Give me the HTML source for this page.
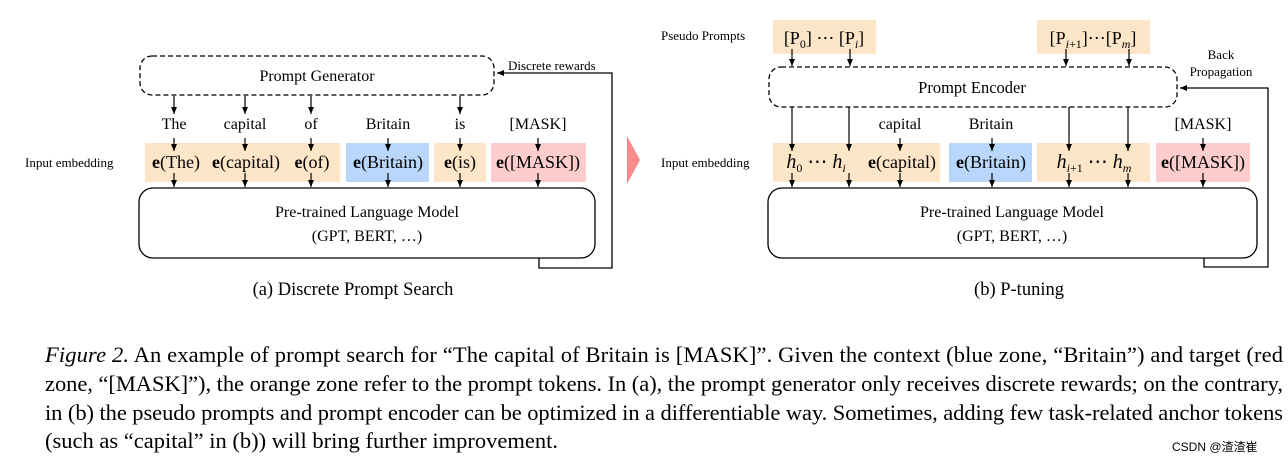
<!DOCTYPE html>
<html><head><meta charset="utf-8"><style>
html,body{margin:0;padding:0;background:#fff;}
svg{display:block;}
text{font-family:"Liberation Serif",serif;fill:#000;}
</style></head><body>
<svg width="1288" height="463" viewBox="0 0 1288 463" xmlns="http://www.w3.org/2000/svg">
<defs>
<marker id="a" markerWidth="8" markerHeight="8" refX="7" refY="4" orient="auto" markerUnits="userSpaceOnUse">
<path d="M0,1 L7,4 L0,7 z" fill="#000"/></marker>
</defs>
<g stroke="#000" stroke-width="1.3" fill="none">
<rect x="140" y="56" width="354" height="39" rx="12" stroke-dasharray="5,3"/>
<rect x="139" y="188" width="456" height="70" rx="14"/>
<path d="M539,258 V268 H612 V73 H497" marker-end="url(#a)"/>
<rect x="769" y="67" width="408" height="40" rx="12" stroke-dasharray="5,3"/>
<rect x="768" y="188" width="489" height="70" rx="14"/>
<path d="M1204,258 V267 H1268 V88 H1180" marker-end="url(#a)"/>
</g>
<g stroke="none">
<rect x="145" y="143" width="195" height="39" fill="#fde5c8"/>
<rect x="346" y="143" width="83" height="39" fill="#b9d6fb"/>
<rect x="434" y="143" width="52" height="39" fill="#fde5c8"/>
<rect x="491" y="143" width="95" height="39" fill="#fdcccc"/>
<rect x="773" y="20" width="103" height="34" fill="#fde5c8"/>
<rect x="1037" y="20" width="113" height="34" fill="#fde5c8"/>
<rect x="773" y="143" width="167" height="39" fill="#fde5c8"/>
<rect x="949" y="143" width="83" height="39" fill="#b9d6fb"/>
<rect x="1037" y="143" width="113" height="39" fill="#fde5c8"/>
<rect x="1156" y="143" width="94" height="39" fill="#fdcccc"/>
</g>
<path d="M627,136 L640,160 L627,184 Z" fill="#f98b8b"/>
<g stroke="#000" stroke-width="1.2" marker-end="url(#a)">
<line x1="174" y1="96" x2="174" y2="114"/><line x1="245" y1="96" x2="245" y2="114"/>
<line x1="311" y1="96" x2="311" y2="114"/><line x1="460" y1="96" x2="460" y2="114"/>
<line x1="174" y1="138" x2="174" y2="151"/><line x1="245" y1="138" x2="245" y2="151"/>
<line x1="311" y1="138" x2="311" y2="151"/><line x1="388" y1="138" x2="388" y2="151"/>
<line x1="460" y1="138" x2="460" y2="151"/><line x1="538" y1="138" x2="538" y2="151"/>
<line x1="174" y1="173" x2="174" y2="187"/><line x1="245" y1="173" x2="245" y2="187"/>
<line x1="311" y1="173" x2="311" y2="187"/><line x1="388" y1="173" x2="388" y2="187"/>
<line x1="460" y1="173" x2="460" y2="187"/><line x1="538" y1="173" x2="538" y2="187"/>
<line x1="792" y1="49" x2="792" y2="66"/><line x1="850" y1="49" x2="850" y2="66"/>
<line x1="1066" y1="49" x2="1066" y2="66"/><line x1="1129" y1="49" x2="1129" y2="66"/>
<line x1="792" y1="107" x2="792" y2="151"/><line x1="849" y1="107" x2="849" y2="151"/>
<line x1="1069" y1="107" x2="1069" y2="151"/><line x1="1128" y1="107" x2="1128" y2="151"/>
<line x1="900" y1="138" x2="900" y2="151"/><line x1="992" y1="138" x2="992" y2="151"/>
<line x1="1203" y1="138" x2="1203" y2="151"/>
<line x1="792" y1="173" x2="792" y2="187"/><line x1="849" y1="173" x2="849" y2="187"/>
<line x1="900" y1="173" x2="900" y2="187"/><line x1="992" y1="173" x2="992" y2="187"/>
<line x1="1069" y1="173" x2="1069" y2="187"/><line x1="1128" y1="173" x2="1128" y2="187"/>
<line x1="1203" y1="173" x2="1203" y2="187"/>
</g>
<g font-size="16" text-anchor="middle">
<text x="317" y="81">Prompt Generator</text>
<text x="174" y="129">The</text><text x="245" y="129">capital</text><text x="311" y="129">of</text>
<text x="388" y="129">Britain</text><text x="460" y="129">is</text><text x="538" y="129">[MASK]</text>
<text x="367" y="217">Pre-trained Language Model</text>
<text x="367" y="241">(GPT, BERT, …)</text>
<text x="353" y="295" font-size="18.5">(a) Discrete Prompt Search</text>
</g>
<g font-size="18" text-anchor="middle">
<text x="176" y="168"><tspan font-weight="bold">e</tspan>(The)</text>
<text x="246" y="168"><tspan font-weight="bold">e</tspan>(capital)</text>
<text x="312" y="168"><tspan font-weight="bold">e</tspan>(of)</text>
<text x="388" y="168"><tspan font-weight="bold">e</tspan>(Britain)</text>
<text x="460" y="168"><tspan font-weight="bold">e</tspan>(is)</text>
<text x="538" y="168"><tspan font-weight="bold">e</tspan>([MASK])</text>
</g>
<text x="25" y="167" font-size="13">Input embedding</text>
<text x="508" y="70" font-size="13">Discrete rewards</text>
<text x="661" y="40" font-size="13">Pseudo Prompts</text>
<text x="661" y="167" font-size="13">Input embedding</text>
<text x="1221" y="59" font-size="13" text-anchor="middle">Back</text>
<text x="1221" y="76" font-size="13" text-anchor="middle">Propagation</text>
<g font-size="18" text-anchor="middle">
<text x="824" y="44">[P<tspan font-size="12" dy="4">0</tspan><tspan dy="-4">] ⋯ [P</tspan><tspan font-size="12" dy="4" font-style="italic">i</tspan><tspan dy="-4">]</tspan></text>
<text x="1093" y="44">[P<tspan font-size="12" dy="4" font-style="italic">i</tspan><tspan font-size="12">+1</tspan><tspan dy="-4">]⋯[P</tspan><tspan font-size="12" dy="4" font-style="italic">m</tspan><tspan dy="-4">]</tspan></text>
<text x="972" y="93" font-size="16.5">Prompt Encoder</text>
<text x="900" y="129" font-size="16">capital</text><text x="991" y="129" font-size="16">Britain</text><text x="1203" y="129" font-size="16">[MASK]</text>
<text x="816" y="168" font-size="20"><tspan font-style="italic">h</tspan><tspan font-size="12" dy="4">0</tspan><tspan dy="-4"> ⋯ </tspan><tspan font-style="italic">h</tspan><tspan font-size="12" dy="4" font-style="italic">i</tspan></text>
<text x="902" y="168"><tspan font-weight="bold">e</tspan>(capital)</text>
<text x="991" y="168"><tspan font-weight="bold">e</tspan>(Britain)</text>
<text x="1094" y="168" font-size="20"><tspan font-style="italic">h</tspan><tspan font-size="12" dy="4" font-style="italic">i</tspan><tspan font-size="12">+1</tspan><tspan dy="-4"> ⋯ </tspan><tspan font-style="italic">h</tspan><tspan font-size="12" dy="4" font-style="italic">m</tspan></text>
<text x="1203" y="168"><tspan font-weight="bold">e</tspan>([MASK])</text>
<text x="1012" y="217" font-size="16">Pre-trained Language Model</text>
<text x="1012" y="241" font-size="16">(GPT, BERT, …)</text>
<text x="1019" y="295" font-size="18.5">(b) P-tuning</text>
</g>
<g font-size="22.5">
<text x="45" y="362" textLength="1238" lengthAdjust="spacing"><tspan font-style="italic">Figure 2.</tspan> An example of prompt search for “The capital of Britain is [MASK]”. Given the context (blue zone, “Britain”) and target (red</text>
<text x="45" y="391" textLength="1238" lengthAdjust="spacing">zone, “[MASK]”), the orange zone refer to the prompt tokens. In (a), the prompt generator only receives discrete rewards; on the contrary,</text>
<text x="45" y="420" textLength="1238" lengthAdjust="spacing">in (b) the pseudo prompts and prompt encoder can be optimized in a differentiable way. Sometimes, adding few task-related anchor tokens</text>
<text x="45" y="448">(such as “capital” in (b)) will bring further improvement.</text>
</g>
<text x="1172" y="451" font-size="12" style="font-family:'Liberation Sans','Noto Sans CJK SC',sans-serif" fill="#999">CSDN @渣渣崔</text>
</svg>
</body></html>
